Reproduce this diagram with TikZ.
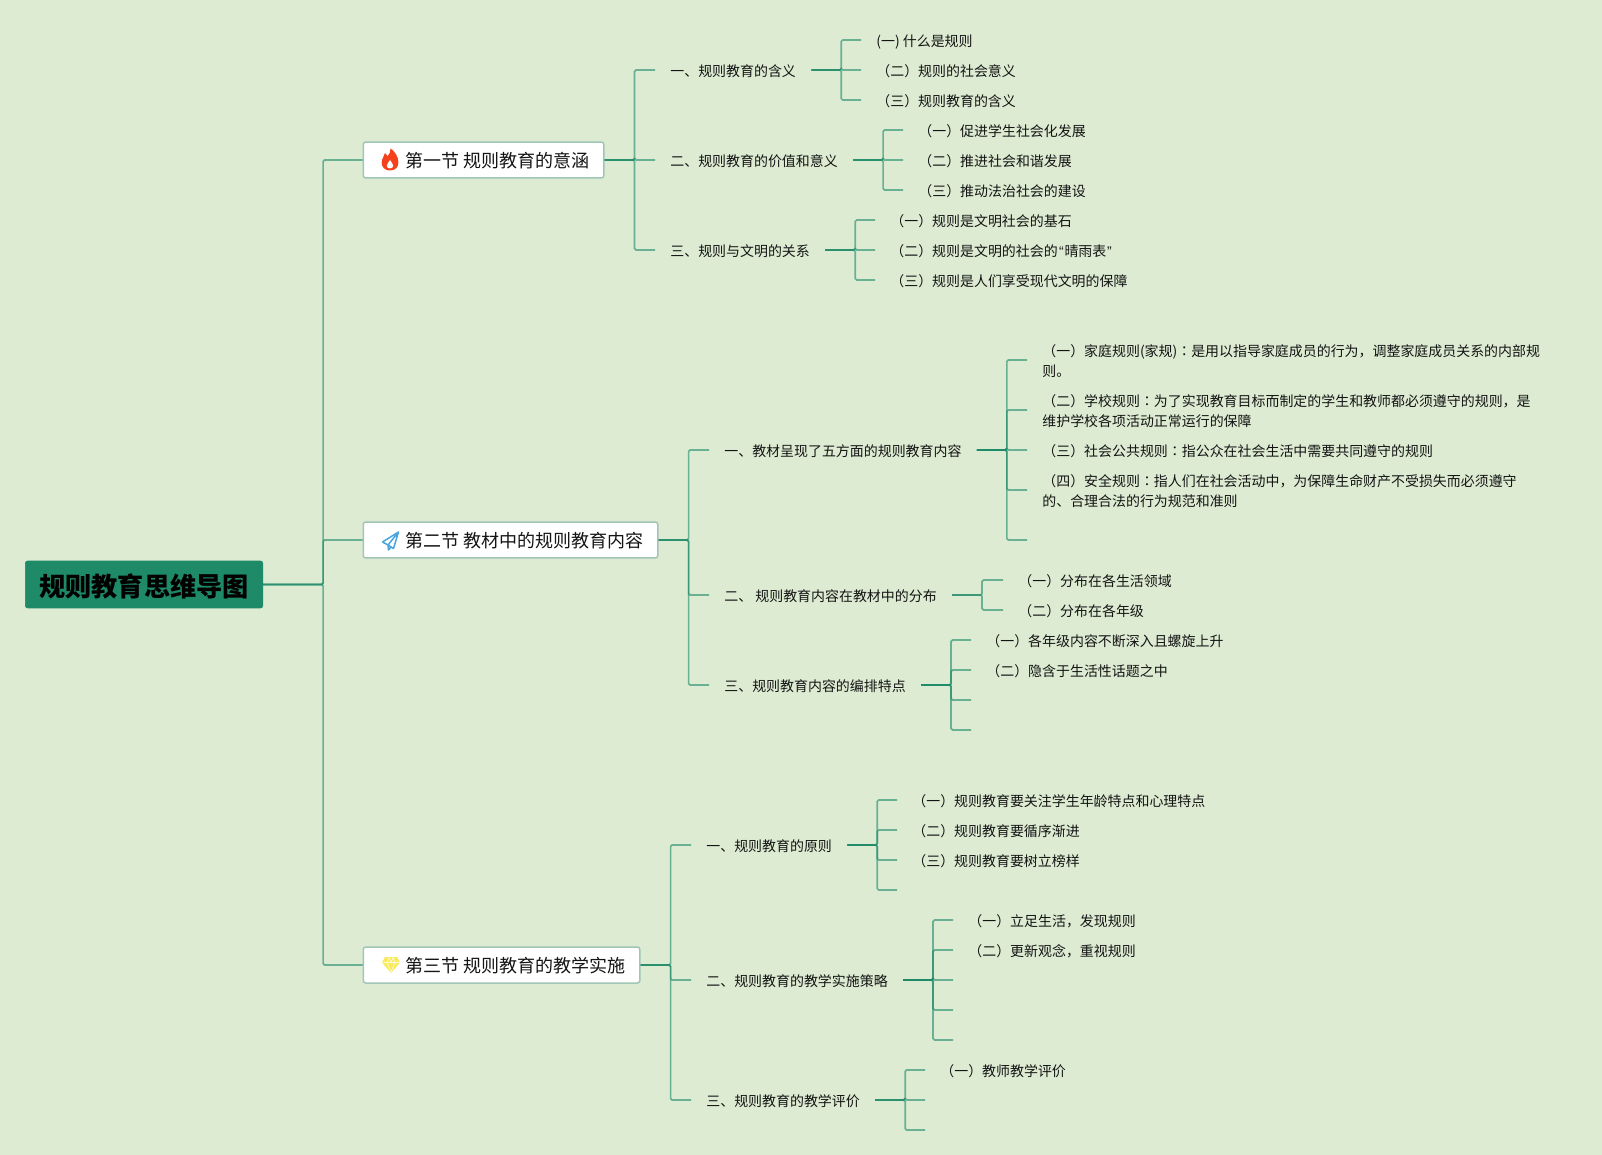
\documentclass[tikz,border=0pt]{standalone}
\usepackage{fontspec}
\usepackage{xcolor}
\usetikzlibrary{positioning}
\setmainfont{Noto Sans CJK SC}
\newfontfamily\quotefont{Liberation Sans}
\newfontfamily\colonfont{Noto Sans CJK TC}
\definecolor{Paper}{HTML}{DCEBD2}
\definecolor{Branch}{HTML}{1E8A68}
\definecolor{Edge}{HTML}{A0C6B6}
\definecolor{Ink}{HTML}{141414}
\definecolor{Flame}{HTML}{F5401C}
\definecolor{Plane}{HTML}{4AA5DF}
\definecolor{Gem}{HTML}{F8EA5A}
\tikzset{
  link/.style={draw=Branch, line width=0.034cm, opacity=.6, rounded corners=0.03cm},
  rootbox/.style={anchor=west, fill=Branch, draw=Branch, rounded corners=0.05cm, inner xsep=0.28cm,
    minimum height=0.94cm, text=black, text height=14.7pt, text depth=1.4pt,
    font=\fontsize{14.9pt}{18pt}\selectfont\bfseries},
  secbox/.style={anchor=west, fill=white, draw=Edge, line width=0.03cm, rounded corners=0.05cm, inner xsep=0.28cm,
    minimum height=0.72cm, text=Ink, text height=9.6pt, text depth=1pt,
    font=\fontsize{10.25pt}{14pt}\selectfont},
  topicbox/.style={anchor=west, inner xsep=0.3cm, inner ysep=0pt, align=left, text=Ink, text height=7.9pt, text depth=.8pt,
    font=\fontsize{7.94pt}{11.34pt}\selectfont},
  wrapbox/.style={topicbox, text height=19.24pt}
}

\begin{document}
\begin{tikzpicture}[x=0.02cm, y=-0.02cm]
  \fill[Paper] (0,0) rectangle (1602,1155);
  \node[rootbox] (root) at (25,584.5) {规则教育思维导图};

  % sections
  \foreach \n/\y/\t in {secA/160/第一节 规则教育的意涵,secB/540/第二节 教材中的规则教育内容,secC/965/第三节 规则教育的教学实施} {
    \node[secbox] (\n) at (362.5,\y) {\hspace*{16.2pt}\t};
    \draw[link] (root.east) -- ++(60,0) |- (\n.west);
  }

  % icons
  \fill[Flame] (390,170.5) .. controls (384.5,170.5) and (381.7,167) .. (381.7,162.5)
    .. controls (381.7,158) and (384.5,156.5) .. (385,153) .. controls (386.5,154) and (387,155.5) .. (387.3,156.5)
    .. controls (389.5,154.5) and (390.8,151.5) .. (390.5,148.5) .. controls (394.5,151) and (398.4,156.5) .. (398.4,162.5)
    .. controls (398.4,167) and (395.5,170.5) .. (390,170.5) -- cycle;
  \fill[white] (390,168.5) .. controls (387.8,168.5) and (386.8,167) .. (386.8,165.5)
    .. controls (386.8,163.5) and (389,162.5) .. (390,160) .. controls (391,162.5) and (393.2,163.5) .. (393.2,165.5)
    .. controls (393.2,167) and (392.2,168.5) .. (390,168.5) -- cycle;
  \draw[Plane, line width=0.03cm, line join=round] (398.5,532) -- (382.5,542) -- (388,545) -- (393.5,548.5) -- cycle
    (398.5,532) -- (388,545) -- (388.5,550) -- (391,547);
  \fill[Gem] (385,957) -- (397,957) -- (400,962.5) -- (391,973) -- (382,962.5) -- cycle;
  \draw[white, line width=0.012cm, opacity=.8] (382.5,962.5) -- (399.5,962.5) (387,962.5) -- (391,972) -- (395,962.5)
    (387,962.5) -- (389,957.5) -- (391,962.5) -- (393,957.5) -- (395,962.5);

  % second level
  \foreach \p/\x/\y/\n/\t in {
    secA/655/70/topA/一、规则教育的含义,
    secA/655/160/topB/二、规则教育的价值和意义,
    secA/655/250/topC/三、规则与文明的关系,
    secB/709/450/topD/一、教材呈现了五方面的规则教育内容,
    secB/709/595/topE/二、 规则教育内容在教材中的分布,
    secB/709/685/topF/三、规则教育内容的编排特点,
    secC/691/845/topG/一、规则教育的原则,
    secC/691/980/topH/二、规则教育的教学实施策略,
    secC/691/1100/topI/三、规则教育的教学评价} {
    \node[topicbox] (\n) at (\x,\y) {\t};
    \draw[link] (\p.east) -- ++(30,0) |- (\n.west);
  }

  % third level
  \foreach \p/\x/\y/\n/\t in {
    topA/861/40/subA/(一) 什么是规则,
    topA/861/70/subB/（二）规则的社会意义,
    topA/861/100/subC/（三）规则教育的含义,
    topB/903/130/subD/（一）促进学生社会化发展,
    topB/903/160/subE/（二）推进社会和谐发展,
    topB/903/190/subF/（三）推动法治社会的建设,
    topC/875/220/subG/（一）规则是文明社会的基石,
    topC/875/250/subH/{（二）规则是文明的社会的\kern.8pt{\quotefont “}\kern.4pt晴雨表\kern.4pt{\quotefont ”}},
    topC/875/280/subI/（三）规则是人们享受现代文明的保障,
    topD/1027/450/subL/{（三）社会公共规则{\colonfont ：}指公众在社会生活中需要共同遵守的规则},
    topE/1003/580/subN/（一）分布在各生活领域,
    topE/1003/610/subO/（二）分布在各年级,
    topF/971/640/subP/（一）各年级内容不断深入且螺旋上升,
    topF/971/670/subQ/（二）隐含于生活性话题之中,
    topG/897/800/subR/（一）规则教育要关注学生年龄特点和心理特点,
    topG/897/830/subS/（二）规则教育要循序渐进,
    topG/897/860/subT/（三）规则教育要树立榜样,
    topH/953/920/subU/（一）立足生活，发现规则,
    topH/953/950/subV/（二）更新观念，重视规则,
    topI/925/1070/subW/（一）教师教学评价} {
    \node[topicbox] (\n) at (\x,\y) {\t};
    \draw[link] (\p.east) -- ++(30,0) |- (\n.west);
  }

  % two lines
  \foreach \p/\x/\y/\n/\t in {
    topD/1027/360/subJ/{（一）家庭规则(家规){\colonfont ：}是用以指导家庭成员的行为，调整家庭成员关系的内部规\\则。},
    topD/1027/410/subK/{（二）学校规则{\colonfont ：}为了实现教育目标而制定的学生和教师都必须遵守的规则，是\\维护学校各项活动正常运行的保障},
    topD/1027/490/subM/{（四）安全规则{\colonfont ：}指人们在社会活动中，为保障生命财产不受损失而必须遵守\\的、合理合法的行为规范和准则}} {
    \node[wrapbox] (\n) at (\x,\y) {\t};
    \draw[link] (\p.east) -- ++(30,0) |- (\n.west);
  }

  % empty topics
  \foreach \p/\x/\y/\n in {topD/1027/540/endA, topF/971/700/endB, topF/971/730/endC, topG/897/890/endD,
    topH/953/980/endE, topH/953/1010/endF, topH/953/1040/endG, topI/925/1100/endH, topI/925/1130/endI} {
    \coordinate (\n) at (\x,\y);
    \draw[link] (\p.east) -- ++(30,0) |- (\n);
  }
\end{tikzpicture}
\end{document}
